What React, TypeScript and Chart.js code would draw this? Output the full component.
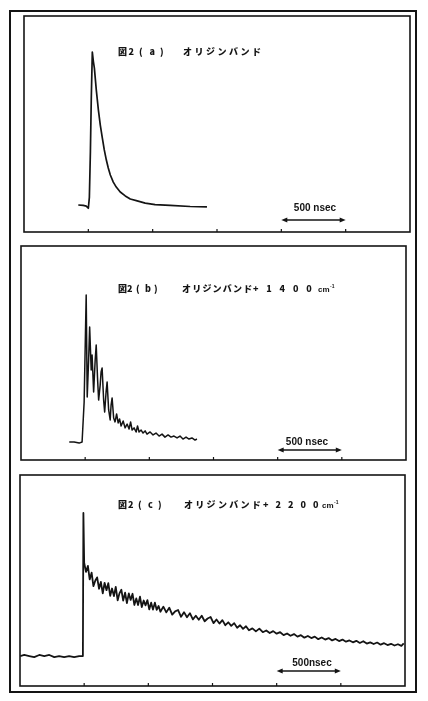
import React, { useEffect, useRef } from "react";
import { Chart, registerables } from "chart.js";

Chart.register(...registerables);

// ---------- data ----------
// time axis in nsec, intensity in arbitrary units (0-100 of panel height)
const X_MIN = -500;
const X_MAX = 2500;
const tickTimes = [0, 500, 1000, 1500, 2000];
const scaleBarTimes = [1500, 2000];

// 図2(a) origin band: [time ns, intensity]
const traceA: [number, number][] = [
  [-78, 12.5], [-40, 12.3], [-16, 12.0], [0, 11.0], [8, 16.0], [16, 37.0],
  [23, 62.0], [31, 83.3], [39, 79.0], [47, 75.9], [62, 65.7], [78, 56.5],
  [93, 49.5], [109, 43.5], [124, 38.0], [140, 33.3], [155, 29.6], [171, 26.4],
  [194, 23.1], [217, 20.8], [248, 18.5], [287, 16.7], [326, 15.3], [380, 14.4],
  [442, 13.4], [519, 12.7], [636, 12.3], [791, 11.8], [922, 11.6],
];

// 図2(b) origin band + 1400 cm-1
const traceB: [number, number][] = [
  [-124, 8.4], [-86, 8.4], [-47, 7.9], [-24, 8.4], [-8, 27.1], [8, 77.1],
  [16, 29.4], [27, 46.7], [35, 62.1], [47, 42.1], [54, 49.1], [66, 31.8],
  [78, 46.7], [86, 53.7], [97, 37.4], [105, 28.0], [117, 35.0], [124, 41.1],
  [132, 43.0], [144, 28.0], [152, 22.4], [163, 31.8], [171, 36.4], [183, 23.4],
  [195, 18.7], [202, 25.7], [210, 29.0], [222, 19.6], [233, 17.8], [245, 21.5],
  [257, 17.3], [268, 19.2], [280, 15.9], [296, 18.2], [311, 15.0], [327, 16.8],
  [342, 14.5], [354, 17.8], [366, 14.0], [381, 15.0], [397, 13.1], [408, 15.9],
  [420, 13.1], [436, 14.0], [451, 12.6], [467, 13.6], [482, 12.1], [506, 13.1],
  [529, 11.7], [552, 12.6], [576, 11.2], [599, 12.1], [622, 10.7], [646, 11.7],
  [669, 10.7], [692, 11.2], [716, 10.3], [739, 11.2], [762, 9.8], [786, 10.7],
  [809, 9.8], [832, 10.3], [856, 9.3], [871, 9.8],
];

// 図2(c) origin band + 2200 cm-1
const traceC: [number, number][] = [
  [-498, 14.2], [-467, 14.7], [-428, 14.2], [-389, 13.7], [-350, 14.7],
  [-311, 14.2], [-272, 14.7], [-233, 13.7], [-195, 14.2], [-156, 13.7],
  [-117, 14.2], [-78, 13.7], [-39, 14.2], [-10, 14.2], [-6, 82.0],
  [0, 58.5], [14, 54.1], [29, 56.9], [43, 50.5], [58, 53.7], [72, 47.3],
  [87, 50.0], [101, 51.5], [116, 46.1], [130, 49.3], [145, 43.9], [159, 48.9],
  [174, 45.4], [188, 48.7], [203, 42.7], [217, 46.2], [232, 42.6], [246, 47.0],
  [261, 40.6], [275, 43.9], [290, 45.6], [304, 40.5], [319, 44.2], [333, 39.3],
  [348, 43.9], [362, 40.8], [377, 43.7], [391, 38.4], [406, 41.5], [420, 38.4],
  [435, 42.3], [449, 37.4], [464, 40.5], [478, 38.2], [493, 40.7], [507, 36.3],
  [522, 39.5], [536, 36.2], [551, 39.5], [565, 36.1], [580, 37.9], [594, 35.2],
  [617, 37.6], [640, 34.9], [663, 37.1], [686, 33.8], [709, 35.4], [732, 36.0],
  [755, 32.8], [778, 35.0], [801, 32.6], [824, 34.5], [847, 31.6], [870, 33.3],
  [893, 31.4], [916, 33.3], [939, 30.7], [962, 32.0], [985, 32.7], [1008, 29.8],
  [1031, 31.5], [1054, 29.6], [1077, 31.2], [1100, 28.8], [1123, 30.2],
  [1146, 28.5], [1169, 29.8], [1192, 27.6], [1215, 28.8], [1238, 27.1],
  [1261, 28.3], [1284, 26.4], [1311, 27.3], [1338, 25.9], [1365, 27.2],
  [1392, 25.5], [1419, 26.3], [1446, 25.1], [1473, 26.0], [1500, 24.8],
  [1527, 25.5], [1554, 24.1], [1581, 24.9], [1608, 23.8], [1635, 24.6],
  [1662, 23.4], [1689, 24.1], [1716, 22.9], [1743, 23.7], [1770, 22.7],
  [1797, 23.4], [1824, 22.2], [1851, 23.0], [1878, 22.0], [1905, 22.7],
  [1932, 21.6], [1959, 22.3], [1986, 21.3], [2013, 22.0], [2040, 21.0],
  [2067, 21.6], [2094, 20.7], [2121, 21.4], [2148, 20.4], [2175, 21.2],
  [2202, 20.1], [2229, 20.7], [2256, 19.9], [2283, 20.6], [2310, 19.6],
  [2337, 20.3], [2364, 19.4], [2391, 20.0], [2418, 19.2], [2445, 19.8],
  [2472, 19.0], [2490, 20.2],
];

const titleHeads = ["図2(a)", "図2(b)", "図2(c)"];
const titleBody = "オリジンバンド";
const titleTails = ["", "+1400", "+2200"];
const titleUnits = ["", "cm", "cm"];
const titleSups = ["", "-1", "-1"];
const scaleLabels = ["500 nsec", "500 nsec", "500nsec"];

// ---------- layout (page pixels) ----------
const PAD = 4;
const INK = "#141414";

type PanelCfg = {
  trace: [number, number][];
  box: { left: number; top: number; width: number; height: number };
  head: string; tail: string; unit: string; sup: string; label: string;
  headX: number; headAdv: number; bodyX: number; bodyAdv: number;
  tailX: number; tailAdv: number; unitX: number; titleY: number;
  labelX: number; labelY: number; arrowY: number; lineW: number;
};

const panels: PanelCfg[] = [
  {
    trace: traceA, box: { left: 24, top: 16, width: 386, height: 216 },
    head: titleHeads[0], tail: titleTails[0], unit: titleUnits[0], sup: titleSups[0], label: scaleLabels[0],
    headX: 118, headAdv: 10.5, bodyX: 183, bodyAdv: 11.5, tailX: 0, tailAdv: 0, unitX: 0, titleY: 52,
    labelX: 315, labelY: 208, arrowY: 220, lineW: 1.7,
  },
  {
    trace: traceB, box: { left: 21, top: 246, width: 385, height: 214 },
    head: titleHeads[1], tail: titleTails[1], unit: titleUnits[1], sup: titleSups[1], label: scaleLabels[1],
    headX: 118, headAdv: 9, bodyX: 182, bodyAdv: 10.2, tailX: 253, tailAdv: 13.3, unitX: 318, titleY: 289,
    labelX: 307, labelY: 442, arrowY: 450, lineW: 1.5,
  },
  {
    trace: traceC, box: { left: 20, top: 475, width: 385, height: 211 },
    head: titleHeads[2], tail: titleTails[2], unit: titleUnits[2], sup: titleSups[2], label: scaleLabels[2],
    headX: 118, headAdv: 10, bodyX: 184, bodyAdv: 11.3, tailX: 263, tailAdv: 12.5, unitX: 322, titleY: 505,
    labelX: 312, labelY: 663, arrowY: 671, lineW: 1.8,
  },
];

function drawSpaced(ctx: CanvasRenderingContext2D, text: string, x: number, y: number, adv: number) {
  Array.from(text).forEach((ch, i) => ctx.fillText(ch, x + i * adv, y));
}

function makeAnnot(cfg: PanelCfg) {
  return {
    id: "annot",
    afterDraw(chart: any) {
      const { ctx, chartArea: a, scales } = chart;
      const xs = scales.x;
      const px = (pageX: number) => a.left + (pageX - cfg.box.left);
      const py = (pageY: number) => a.top + (pageY - cfg.box.top);
      ctx.save();
      // frame
      ctx.strokeStyle = INK;
      ctx.lineWidth = 1.6;
      ctx.strokeRect(a.left, a.top, a.right - a.left, a.bottom - a.top);
      // tick marks on the time axis
      ctx.lineWidth = 1.2;
      tickTimes.forEach((t) => {
        const x = xs.getPixelForValue(t);
        ctx.beginPath();
        ctx.moveTo(x, a.bottom);
        ctx.lineTo(x, a.bottom - 3);
        ctx.stroke();
      });
      // scale bar (500 nsec)
      const x1 = xs.getPixelForValue(scaleBarTimes[0]);
      const x2 = xs.getPixelForValue(scaleBarTimes[1]);
      const ay = py(cfg.arrowY);
      ctx.lineWidth = 1.4;
      ctx.beginPath();
      ctx.moveTo(x1 + 3, ay);
      ctx.lineTo(x2 - 3, ay);
      ctx.stroke();
      ctx.fillStyle = INK;
      ctx.beginPath();
      ctx.moveTo(x1, ay); ctx.lineTo(x1 + 6, ay - 2.6); ctx.lineTo(x1 + 6, ay + 2.6); ctx.closePath();
      ctx.fill();
      ctx.beginPath();
      ctx.moveTo(x2, ay); ctx.lineTo(x2 - 6, ay - 2.6); ctx.lineTo(x2 - 6, ay + 2.6); ctx.closePath();
      ctx.fill();
      ctx.font = "bold 10px 'Liberation Sans', Arial, sans-serif";
      ctx.textAlign = "center";
      ctx.textBaseline = "middle";
      ctx.fillText(cfg.label, px(cfg.labelX), py(cfg.labelY));
      // title
      ctx.textAlign = "left";
      ctx.font = "900 9px 'Noto Sans CJK JP', sans-serif";
      const ty = py(cfg.titleY);
      drawSpaced(ctx, cfg.head, px(cfg.headX), ty, cfg.headAdv);
      drawSpaced(ctx, titleBody, px(cfg.bodyX), ty, cfg.bodyAdv);
      if (cfg.tail) drawSpaced(ctx, cfg.tail, px(cfg.tailX), ty, cfg.tailAdv);
      if (cfg.unit) {
        ctx.font = "bold 8px 'Liberation Sans', sans-serif";
        ctx.fillText(cfg.unit, px(cfg.unitX), ty + 0.5);
        const w = ctx.measureText(cfg.unit).width;
        ctx.font = "bold 5px 'Liberation Sans', sans-serif";
        ctx.fillText(cfg.sup, px(cfg.unitX) + w + 0.5, ty - 2.5);
      }
      ctx.restore();
    },
  };
}

function Panel({ cfg }: { cfg: PanelCfg }) {
  const ref = useRef<HTMLCanvasElement>(null);
  const w = cfg.box.width + 2 * PAD;
  const h = cfg.box.height + 2 * PAD;
  useEffect(() => {
    const chart = new Chart(ref.current as HTMLCanvasElement, {
      type: "line",
      data: {
        datasets: [
          {
            data: cfg.trace.map(([t, v]) => ({ x: t, y: v })),
            borderColor: INK,
            borderWidth: cfg.lineW,
            borderJoinStyle: "round",
            pointRadius: 0,
            tension: 0,
            fill: false,
          },
        ],
      },
      options: {
        animation: false,
        responsive: false,
        maintainAspectRatio: false,
        events: [],
        layout: { padding: PAD },
        plugins: { legend: { display: false }, tooltip: { enabled: false }, title: { display: false } },
        scales: {
          x: { type: "linear", min: X_MIN, max: X_MAX, display: false },
          y: { type: "linear", min: 0, max: 100, display: false },
        },
      },
      plugins: [makeAnnot(cfg)],
    } as any);
    return () => chart.destroy();
  }, [cfg]);
  return (
    <canvas
      ref={ref}
      width={w}
      height={h}
      style={{ position: "absolute", left: cfg.box.left - PAD, top: cfg.box.top - PAD, width: w, height: h }}
    />
  );
}

export default function App() {
  return (
    <div style={{ position: "absolute", left: 0, top: 0, width: 428, height: 701, background: "#fff" }}>
      <div
        style={{
          position: "absolute", left: 9, top: 10, width: 408, height: 683,
          border: "2px solid #141414", boxSizing: "border-box",
        }}
      />
      {panels.map((p, i) => (
        <Panel key={i} cfg={p} />
      ))}
    </div>
  );
}
